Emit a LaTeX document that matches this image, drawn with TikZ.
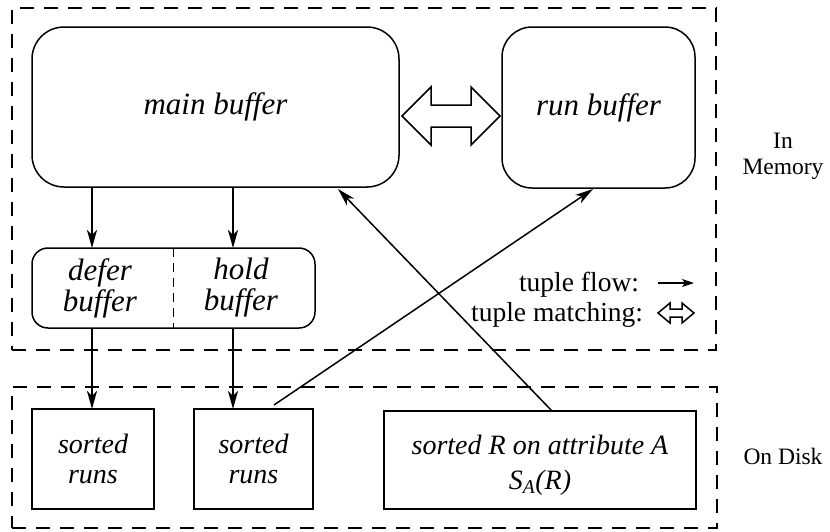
\documentclass[tikz,border=0pt]{standalone}
\usepackage{fontspec}
\setmainfont{Liberation Serif}
\usetikzlibrary{arrows.meta,calc}
\begin{document}
\begin{tikzpicture}[x=1pt,y=-1pt,
  every node/.style={inner sep=0pt, outer sep=0pt},
  region/.style={draw, line width=1.5pt, dash pattern=on 14pt off 10pt},
  membox/.style={draw, line width=1.5pt, rounded corners=#1, align=center,
    font=\fontsize{31}{31}\selectfont\itshape},
  memtext/.style={align=center, font=\fontsize{31}{31}\selectfont\itshape},
  diskbox/.style={draw, line width=1.5pt, align=center,
    font=\fontsize{28}{30}\selectfont\itshape},
  sidelabel/.style={align=center, font=\fontsize{23.5}{26}\selectfont},
  legendtext/.style={font=\fontsize{27.5}{30}\selectfont},
  flow/.style={line width=1.5pt, -{Stealth[length=18pt,width=10pt,inset=5pt]}},
  smallflow/.style={line width=1.5pt, -{Stealth[length=12pt,width=8pt,inset=3pt]}},
  divider/.style={line width=1.5pt, dash pattern=on 9pt off 6pt},
  hollow/.style={draw, line width=1.5pt, line join=miter, fill=white}
]
\useasboundingbox (0,0) rectangle (830,531);
\fill[white] (0,0) rectangle (830,531);

% regions
\node[region, minimum width=704pt, minimum height=342pt] (mem) at (364,179) {};
\node[region, minimum width=705pt, minimum height=141pt] (disk) at (364.5,457.5) {};
\node[sidelabel] (inmem) at (783,156) {In\\Memory};
\node[sidelabel] (ondisk) at (783,456) {On Disk};

% memory buffers
\node[membox=32pt, minimum width=367pt, minimum height=160pt] (main) at (215.5,107) {main buffer};
\node[membox=30pt, minimum width=193pt, minimum height=161pt] (run) at (598.5,107.5) {run buffer};
\node[draw, line width=1.5pt, rounded corners=16pt, minimum width=283pt, minimum height=80pt] (dh) at (173.5,288) {};
\node[memtext] (defer) at (100,288) {defer\\buffer};
\node[memtext] (hold) at (241,288) {hold\\buffer};
\draw[divider] (dh.north) -- (dh.south);

% disk boxes
\node[diskbox, minimum width=122pt, minimum height=100pt] (sr1) at (93,459) {sorted\\runs};
\node[diskbox, minimum width=119pt, minimum height=100pt] (sr2) at (253.5,459) {sorted\\runs};
\node[diskbox, minimum width=312pt, minimum height=98pt] (sR) at (540,460) {\rule{0pt}{30pt}sorted R on attribute A\\[5pt]S\textsubscript{A}(R)};

% flows
\draw[flow] ([xshift=60pt]main.south west) -- ([xshift=60pt]dh.north west);
\draw[flow] ([xshift=201pt]main.south west) -- ([xshift=201pt]dh.north west);
\draw[flow] ([xshift=60pt]dh.south west) -- ([xshift=60pt]sr1.north west);
\draw[flow] ([xshift=201pt]dh.south west) -- ([xshift=39pt]sr2.north west);
\draw[flow] ([xshift=80pt,yshift=4pt]sr2.north west) -- ([xshift=91pt,yshift=-1pt]run.south west);
\draw[flow] ([xshift=168pt]sR.north west) -- ([xshift=306pt,yshift=-2pt]main.south west);

% matching arrow between buffers
\draw[hollow] (402,116) -- (431,87) -- (431,105) -- (471,105) -- (471,87) -- (500,116)
  -- (471,145) -- (471,127) -- (431,127) -- (431,145) -- cycle;

% legend
\node[legendtext, anchor=base east] (lf) at (639,291) {tuple flow:};
\node[legendtext, anchor=base east] (lm) at (643,321) {tuple matching:};
\coordinate (la1) at (658,283);
\coordinate (la2) at (694,283);
\draw[smallflow] (la1) -- (la2);
\draw[hollow] (658,313) -- (670,303) -- (670,309) -- (682,309) -- (682,303) -- (694,313)
  -- (682,323) -- (682,317) -- (670,317) -- (670,323) -- cycle;
\end{tikzpicture}
\end{document}
